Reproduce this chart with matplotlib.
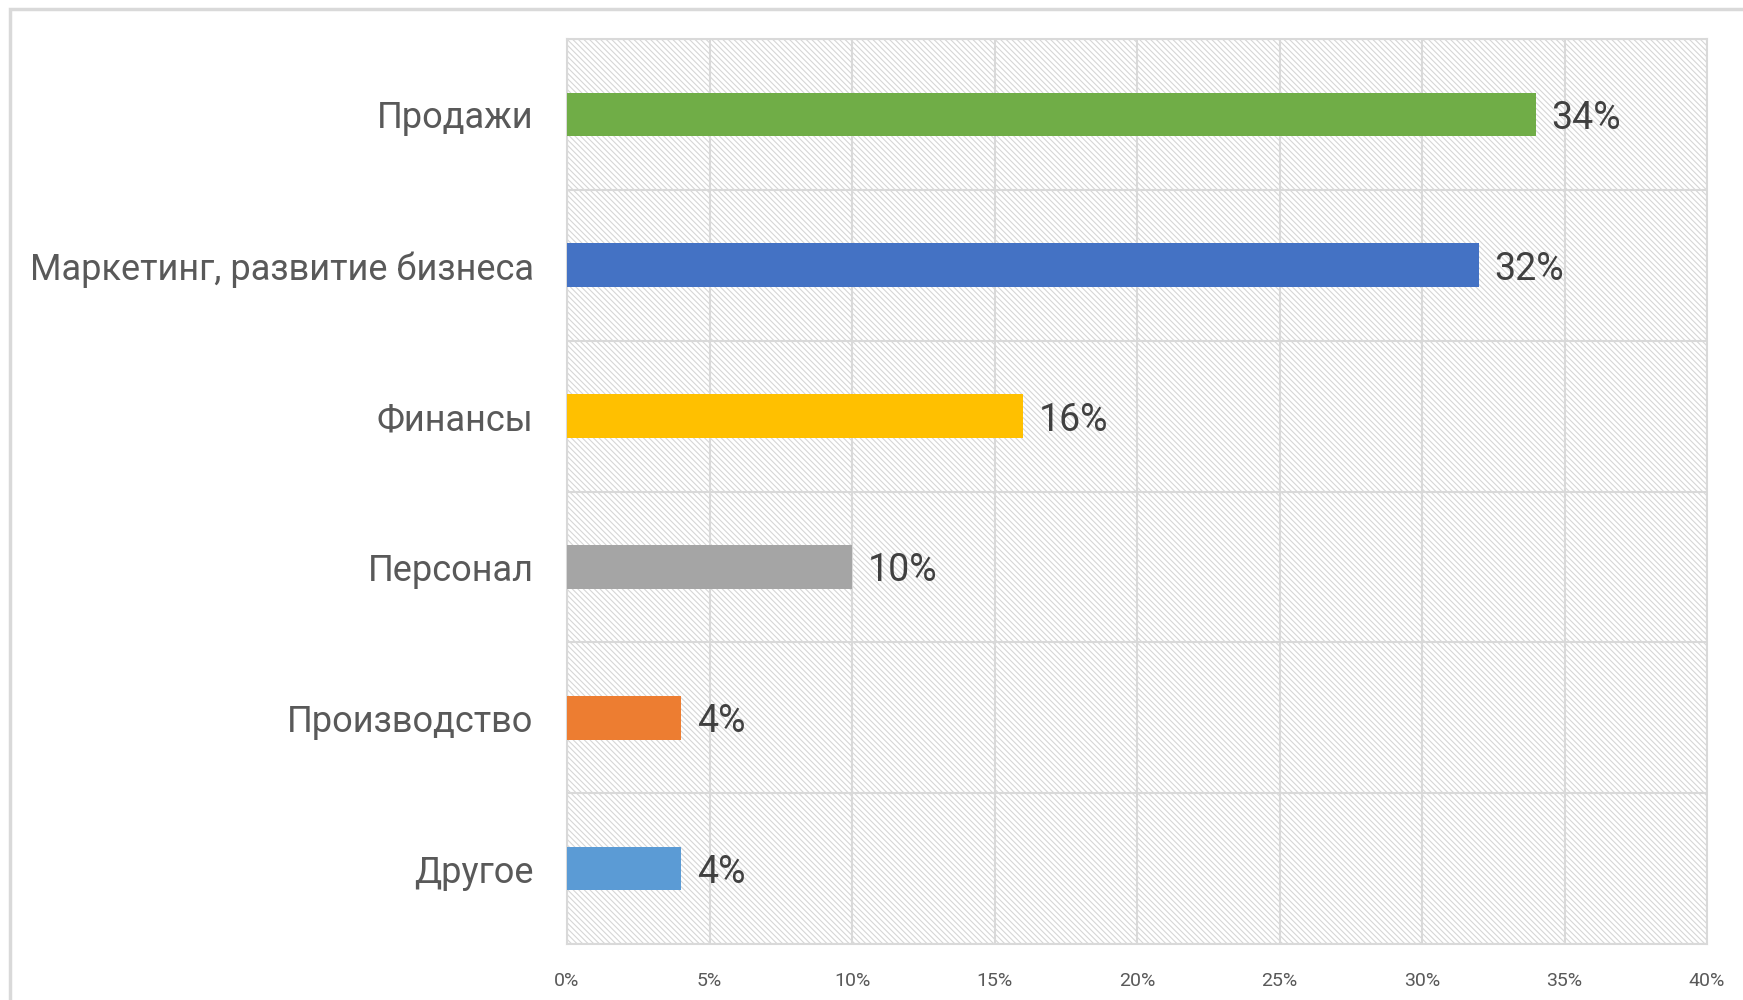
import matplotlib
matplotlib.use("Agg")
import matplotlib.pyplot as plt
from matplotlib.patches import Rectangle
from matplotlib.ticker import FixedLocator, PercentFormatter

categories = ["Продажи", "Маркетинг, развитие бизнеса", "Финансы", "Персонал", "Производство", "Другое"]
values = [34, 32, 16, 10, 4, 4]
colors = ["#70AD47", "#4472C4", "#FFC000", "#A5A5A5", "#ED7D31", "#5B9BD5"]
xticks = [0, 5, 10, 15, 20, 25, 30, 35, 40]

plt.rcParams['font.family'] = ['Roboto', 'DejaVu Sans']
plt.rcParams['hatch.linewidth'] = 0.8
plt.rcParams['hatch.color'] = '#D6D6D6'

fig = plt.figure(figsize=(17.43, 10), dpi=100)
W, H = 1743, 1000
# outer border
fig.patches.append(Rectangle((10 / W, -0.1), 1.2, 1 - 9 / H + 0.1, transform=fig.transFigure,
                             fill=False, edgecolor='#D9D9D9', linewidth=2.5, zorder=0))

ax = fig.add_axes([567 / W, 1 - 944 / H, (1707 - 567) / W, (944 - 39) / H])
ax.set_xlim(0, 40)
n = len(categories)
ax.set_ylim(n - 0.5, -0.5)

bg = Rectangle((0, 0), 1, 1, transform=ax.transAxes, facecolor='white', edgecolor='#D6D6D6',
               hatch='\\\\\\\\\\\\', linewidth=0, zorder=0)
ax.add_patch(bg)

ypos = list(range(n))
ax.barh(ypos, values, height=0.29, color=colors, zorder=3)
for y, v in zip(ypos, values):
    ax.text(v + 0.55, y, f"{v}%", va='center_baseline', ha='left', fontsize=27,
            color='#404040', zorder=4)

ax.set_yticks(ypos)
ax.set_yticklabels(categories, fontsize=26, color='#595959')
ax.yaxis.set_minor_locator(FixedLocator([i + 0.5 for i in range(-1, n)]))
ax.set_xticks(xticks)
ax.xaxis.set_major_formatter(PercentFormatter(decimals=0))
ax.tick_params(axis='x', labelsize=14, colors='#595959', length=0, pad=20)
ax.tick_params(axis='y', which='both', length=0, pad=24)
ax.grid(axis='x', which='major', color='#D9D9D9', linewidth=1.5, zorder=1)
ax.grid(axis='y', which='minor', color='#D9D9D9', linewidth=1.5, zorder=1)
ax.grid(axis='y', which='major', visible=False)
ax.set_axisbelow(True)
for s in ax.spines.values():
    s.set_color('#D9D9D9')
    s.set_linewidth(1.5)

fig.savefig("out.png", dpi=100)
